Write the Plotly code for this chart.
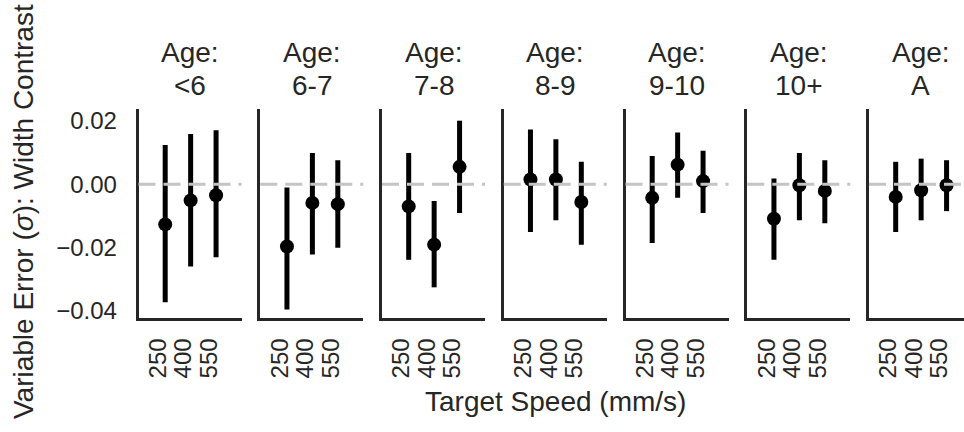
import plotly.graph_objects as go

# ---- data ----
groups = ["<6", "6-7", "7-8", "8-9", "9-10", "10+", "A"]
speeds = ["250", "400", "550"]

mean_250 = [-0.0127, -0.0197, -0.0070, 0.0015, -0.0043, -0.0109, -0.0040]
mean_400 = [-0.0051, -0.0059, -0.0191, 0.0015, 0.0062, -0.0003, -0.0019]
mean_550 = [-0.0035, -0.0063, 0.0055, -0.0056, 0.0010, -0.0021, -0.0003]

lo_250 = [-0.0373, -0.0396, -0.0239, -0.0151, -0.0186, -0.0239, -0.0151]
hi_250 = [0.0124, -0.0010, 0.0099, 0.0173, 0.0089, 0.0018, 0.0071]
lo_400 = [-0.0260, -0.0222, -0.0326, -0.0114, -0.0043, -0.0114, -0.0114]
hi_400 = [0.0159, 0.0099, -0.0053, 0.0142, 0.0164, 0.0099, 0.0081]
lo_550 = [-0.0231, -0.0201, -0.0091, -0.0191, -0.0091, -0.0123, -0.0085]
hi_550 = [0.0171, 0.0076, 0.0201, 0.0071, 0.0106, 0.0076, 0.0076]

y_tickvals = [-0.04, -0.02, 0.00, 0.02]
y_ticktext = ["\u22120.04", "\u22120.02", "0.00", "0.02"]

# ---- styling / layout constants ----
W, H = 964, 432
T, B = 109, 114
FONT = "Arial, Liberation Sans, sans-serif"
TXT = "#262626"
SPINE = "#262626"
start0, step, pw = 138.5, 121.75, 103.0
xr = (-1.05, 3.0)
yr = [-0.0423, 0.0238]
ppu = pw / (xr[1] - xr[0])

fig = go.Figure()
layout = dict(
    width=W, height=H,
    margin=dict(l=0, r=0, t=T, b=B, pad=0),
    paper_bgcolor="white", plot_bgcolor="white",
    font=dict(family=FONT, color=TXT, size=24),
    showlegend=False,
)
shapes = []
annotations = []

def ypx_to_paper(ypx):
    return (H - B - ypx) / (H - T - B)

for i, g in enumerate(groups):
    sfx = "" if i == 0 else str(i + 1)
    x0 = start0 + i * step
    x1 = min(x0 + pw, W)
    xmax = xr[0] + (x1 - x0) / ppu
    means = [mean_250[i], mean_400[i], mean_550[i]]
    los = [lo_250[i], lo_400[i], lo_550[i]]
    his = [hi_250[i], hi_400[i], hi_550[i]]
    fig.add_trace(go.Scatter(
        x=speeds, y=means, mode="markers",
        marker=dict(color="black", size=14),
        error_y=dict(type="data", symmetric=False,
                     array=[h - m for h, m in zip(his, means)],
                     arrayminus=[m - l for m, l in zip(means, los)],
                     color="black", thickness=5, width=0),
        xaxis="x" + sfx, yaxis="y" + sfx, hoverinfo="skip",
    ))
    layout["xaxis" + sfx] = dict(
        domain=[x0 / W, x1 / W], anchor="y" + sfx, type="category",
        categoryorder="array", categoryarray=speeds,
        tickmode="array", tickvals=speeds, ticktext=speeds,
        range=[xr[0], xmax], showgrid=False, zeroline=False,
        showline=True, linecolor=SPINE, linewidth=2.5,
        ticks="", tickangle=-90, tickfont=dict(size=24, color=TXT),
        ticklabelstandoff=8, ticklabelshift=-7,
    )
    layout["yaxis" + sfx] = dict(
        domain=[0, 1], anchor="x" + sfx, range=yr,
        showgrid=False, zeroline=False,
        showline=True, linecolor=SPINE, linewidth=2.5,
        ticks="", tickvals=y_tickvals, ticktext=y_ticktext,
        showticklabels=(i == 0), tickfont=dict(size=24, color=TXT),
        ticklabelstandoff=14,
    )
    shapes.append(dict(
        type="line", xref="x" + sfx + " domain", yref="y" + sfx,
        x0=0, x1=1, y0=0, y1=0, layer="above",
        line=dict(color="#c4c4c4", width=3, dash="17px,8px"),
    ))
    cx = (x0 + pw / 2) / W
    annotations.append(dict(text="Age:", xref="paper", yref="paper",
                            x=cx, y=ypx_to_paper(53), xanchor="center", yanchor="middle",
                            showarrow=False, font=dict(size=28, color=TXT)))
    annotations.append(dict(text=g.replace("<", "&lt;"), xref="paper", yref="paper",
                            x=cx, y=ypx_to_paper(85), xanchor="center", yanchor="middle",
                            showarrow=False, font=dict(size=28, color=TXT)))

annotations.append(dict(text="Target Speed (mm/s)", xref="paper", yref="paper",
                        x=(start0 + (6 * step + pw) / 2) / W, y=ypx_to_paper(401),
                        xanchor="center", yanchor="middle", showarrow=False,
                        font=dict(size=28, color=TXT)))
annotations.append(dict(text="Variable Error (<i>\u03c3</i>): Width Contrast",
                        xref="paper", yref="paper", x=23 / W, y=ypx_to_paper(212),
                        xanchor="center", yanchor="middle", textangle=-90,
                        showarrow=False, font=dict(size=28, color=TXT)))

layout["shapes"] = shapes
layout["annotations"] = annotations
fig.update_layout(**layout)
fig.write_html("out.html")
